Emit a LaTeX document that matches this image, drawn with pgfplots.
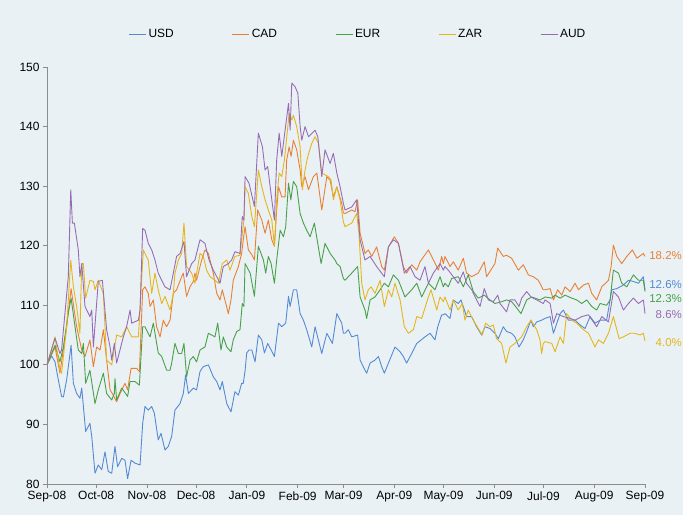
\documentclass[border=0pt]{standalone}
\usepackage{fontspec}
\setmainfont{Liberation Sans}
\usepackage{pgfplots}
\pgfplotsset{compat=1.18}
\definecolor{bgc}{RGB}{234,241,245}
\definecolor{usdc}{RGB}{84,138,212}
\definecolor{cadc}{RGB}{232,128,52}
\definecolor{eurc}{RGB}{72,160,72}
\definecolor{zarc}{RGB}{228,182,28}
\definecolor{audc}{RGB}{150,108,180}
\definecolor{axc}{RGB}{140,140,140}
\begin{document}
\begin{tikzpicture}
\fill[bgc] (0,0) rectangle (683bp,515bp);
\useasboundingbox (0,0) rectangle (683bp,515bp);
\begin{axis}[
  at={(47bp,31bp)}, anchor=south west,
  scale only axis, width=598bp, height=417bp,
  xmin=0, xmax=365, ymin=80, ymax=150,
  axis x line*=bottom, axis y line*=left,
  axis line style={axc, line width=0.8pt, -},
  tick style={axc, line width=0.8pt},
  tick align=outside, major tick length=4bp,
  xtick={0,30,61,91,122,153,181,212,242,273,303,334,365},
  xticklabels={Sep-08,Oct-08,Nov-08,Dec-08,Jan-09,Feb-09,Mar-09,Apr-09,May-09,Jun-09,Jul-09,Aug-09,Sep-09},
  ytick={80,90,...,150},
  /pgf/number format/assume math mode=true,
  ticklabel style={font=\fontsize{12}{14}\selectfont, text=black},
  clip=false,
  legend columns=5,
  legend style={draw=none, fill=none, at={(0.520,1.079)}, anchor=center,
    font=\fontsize{12}{14}\selectfont,
    /tikz/every even column/.append style={column sep=56bp},
    /tikz/every odd column/.append style={column sep=0bp}},
  legend cell align=left,
  legend image code/.code={\draw[#1, line width=1pt] (0bp,0bp) -- (17bp,0bp);},
  every axis plot/.append style={line width=0.9pt, line join=round},
]
\addplot[usdc] coordinates {
(0,100)(2.8,101.5)(4.9,100.5)(6.9,97.5)(8.9,94.7)(10,94.6)(12,97.5)(14.7,103.3)(16.1,96.9)(18.1,95.2)(20.1,94.4)(21.2,96.1)(23.6,88.8)(26.2,90.2)(27.3,88)(29.3,81.8)(31.3,83.2)(33.4,82.4)(35.4,85.4)(37.4,82.1)(39.5,81.8)(41.5,86.3)(43.1,82.9)(45.6,84.3)(47.6,84.0)(49.2,80.9)(51.3,84.0)(53.7,83.5)(56.8,83.2)(58.4,90.2)
(59.8,93.0)(61.8,92.4)(63.9,93.0)(65.5,91.9)(67.9,87.4)(69.6,88.5)(72.0,85.7)(74.0,86.3)(76.1,88.0)(78.1,92.4)(81.2,93.5)(83.2,95.2)(84.6,98.3)(86.3,95.2)(89.3,96.1)(91.3,95.8)(93.4,98.9)(95.4,99.7)(98.5,100.0)(101.5,98.0)(103.6,97.2)(105.6,95.8)(107.0,97.2)(109.7,93.5)(112.3,92.1)(114.7,95.5)(116.8,94.9)(118.8,96.9)(119.8,96.9)
(120.9,99)(121.9,102.0)(123.3,102.5)(125.0,102.5)(127.0,100.5)(129.0,105.0)(131.1,104.2)(132.7,102.0)(134.7,103.6)(136.8,102.5)(138.8,101.4)(141.3,107.0)(143.3,106.4)(145.7,107.0)(147.4,111.5)(148.4,109.8)(150.4,112.6)(152.4,112.6)(154.5,108.6)(156.5,107.5)(158.5,105.9)(161.6,103.0)(163.6,106.4)(167.7,101.9)(170.8,105.3)(174.2,103.6)(176.9,108.6)(179.9,107.0)(180.9,105.3)
(181.9,105.3)(183.9,105.9)(186.0,104.7)(189.6,105.0)(191.1,100.8)(194.1,99.1)(195.1,98.6)(197.2,100.3)(200.2,100.8)(202.3,101.4)(204.3,99.7)(205.9,98.6)(208.4,100.3)(212.4,103.0)(215.5,102.2)(217.5,101.4)(219.5,100.3)(222.6,101.9)(225.7,103.6)(230.7,104.7)(233.8,105.3)(236.8,104.2)(238.5,106.4)(240.9,108.4)(241.9,108.4)
(242.9,108.6)(246.0,107.8)(248.0,110.9)(251.0,110.3)(252.7,110.9)(256.1,108.1)(259.2,108.1)(262.2,106.4)(265.3,105.0)(267.3,106.4)(270.4,106.1)(273.4,105.3)(275.5,104.4)(278.5,106.4)(280.5,105.6)(283.6,105.3)(285.6,104.7)(288.1,103.0)(290.7,104.2)(292.8,105.6)(295.4,107.5)(296.8,106.4)(298.9,107.2)(301.9,107.5)
(304.0,107.8)(307.1,108.1)(309.1,105.3)(313.2,108.6)(315.2,109.2)(318.2,107.5)(322.3,107.5)(325.4,106.7)(328.4,106.1)(331.5,108.1)(334.5,107.0)(337.6,107.5)(341.6,107.5)(344.7,112.6)(347.8,112.8)(351.8,113.4)(354.9,114.2)(357.9,114.0)(361.0,113.7)(364.0,114.8)(365,112.6)
};
\addlegendentry{USD}
\addplot[cadc] coordinates {
(0,100)(4.9,103.0)(7.9,98.6)(12.0,106.4)(14.7,112.8)(18.1,106.4)(21.2,102.5)(23.2,101.4)(26.2,104.2)(28.3,99.7)(30.3,103.0)(32.4,102.5)(34.4,105.9)(36.4,100.8)(38.5,95.8)(40.5,94.9)(42.5,93.8)(44.6,95.2)(47.6,96.9)(49.2,95.8)(51.3,99.4)(54.7,99.4)(56.4,98.9)(58.4,112.6)
(59.8,113.1)(61.8,112.0)(62.9,109.8)(64.9,110.9)(66.9,106.4)(69.0,104.7)(71.0,107.5)(73.0,106.4)(75.1,107.5)(77.1,112.0)(79.1,112.6)(82.2,114.8)(83.2,115.4)(85.2,111.5)(87.3,113.1)(89.3,114.0)(90.3,115.4)(91.3,114.2)(94.4,117.6)(96.4,119.3)(98.5,118.7)(101.5,115.4)(103.6,112.0)(105.6,110.9)(107.0,112.6)(110.7,108.6)(112.3,110.9)(113.7,114.2)(116.8,116.5)(118.8,118.7)(119.8,121.0)
(120.9,123.2)(122.9,119.3)(125.0,118.5)(126.6,117.6)(128.6,126.0)(131.1,124.3)(133.1,122.1)(135.1,124.3)(137.2,121.0)(138.8,119.9)(140.2,126.0)(141.3,129.9)(143.3,128.2)(145.3,128.2)(146.3,134.4)(147.8,136.6)(149.0,135.0)(150.4,137.7)(152.4,136.1)(154.5,132.7)(155.5,129.9)(157.5,131.6)(159.6,129.4)(162.6,131.6)(164.7,132.2)(167.7,126.0)(170.8,131.6)(172.8,131.0)(174.8,128.2)(176.9,129.9)(179.9,127.1)(180.9,125.5)
(181.9,125.4)(186.0,126.0)(188.0,125.7)(189.6,127.7)(191.1,122.1)(194.1,118.7)(196.1,119.3)(198.2,118.2)(201.2,119.8)(204.3,116.5)(205.9,115.9)(208.4,119.8)(212.0,121.5)(214.5,120.4)(217.5,116.5)(219.5,115.4)(222.6,116.8)(225.7,115.9)(227.7,117.3)(232.8,119.3)(234.8,118.2)(238.9,115.9)(240.9,118.2)(241.9,117.0)
(242.9,118.2)(246.0,116.5)(248.0,117.3)(251.0,115.9)(254.1,117.9)(256.1,115.4)(259.2,114.8)(263.2,115.4)(266.9,117.3)(268.3,114.8)(273.4,117.0)(275.1,119.6)(278.5,118.2)(280.5,118.4)(283.6,117.9)(287.7,115.9)(290.7,116.8)(293.8,115.1)(296.8,114.8)(299.9,114.2)(302.9,112.6)
(304.0,112.6)(307.1,112.8)(309.1,110.9)(311.7,112.6)(314.2,111.7)(316.2,113.1)(319.3,112.3)(322.3,113.7)(324.4,112.6)(327.4,113.4)(330.5,113.7)(332.5,112.0)(335.5,110.9)(338.6,113.1)(342.7,114.2)(344.3,116.5)(345.7,120.1)(347.8,118.2)(350.8,117.0)(353.9,118.2)(357.3,119.3)(360.0,117.9)(364.0,118.7)(365,118.2)
};
\addlegendentry{CAD}
\addplot[eurc] coordinates {
(0,100)(4.9,103.3)(7.9,100.5)(10.0,103.0)(13.0,108.7)(14.7,111.2)(17.1,106.4)(19.1,102.5)(21.2,101.9)(22.2,103.6)(23.6,96.9)(26.2,99.1)(29.3,93.5)(31.3,95.8)(34.4,98.6)(36.4,95.2)(39.5,94.1)(41.1,95.2)(41.5,97.7)(42.5,94.1)(45.6,96.1)(49.2,94.7)(50.7,97.2)(53.7,97.2)(56.4,96.6)(58.4,106.4)
(59.8,106.4)(62.9,104.7)(64.9,107.0)(67.9,102.0)(70.0,101.4)(73.0,99.1)(75.1,99.1)(76.1,100.3)(78.1,103.6)(80.2,101.9)(82.2,101.9)(83.6,103.6)(85.2,98.0)(87.3,100.8)(89.3,101.4)(91.3,100.5)(93.4,102.5)(96.4,103.0)(98.5,105.3)(102.5,104.7)(104.2,107.0)(106.2,102.5)(107.6,104.7)(109.7,103.0)(112.3,102.2)(113.7,104.2)(115.8,105.6)(117.8,105.9)(119.2,110.3)(120.2,109.8)
(120.9,117.0)(124.0,115.4)(126.6,111.5)(129.0,119.9)(132.1,117.6)(133.5,115.4)(135.1,118.2)(136.8,117.0)(138.8,113.7)(140.2,117.6)(142.3,122.6)(144.3,121.5)(145.7,123.2)(147.4,130.5)(148.8,127.7)(150.4,130.8)(152.4,129.9)(154.5,125.4)(156.5,123.8)(158.5,122.6)(160.6,121.5)(163.2,123.8)(167.3,117.0)(169.7,120.4)(172.8,118.7)(175.8,117.6)(176.9,117.0)(178.9,116.5)(180.9,114.5)
(181.9,114.2)(186.0,115.4)(189.6,116.5)(191.1,111.4)(194.1,109.2)(195.1,107.8)(197.2,110.9)(200.2,111.4)(203.3,112.6)(205.9,113.7)(208.4,113.1)(211.4,115.1)(214.5,114.2)(218.5,111.4)(222.6,112.6)(225.7,113.7)(228.7,111.4)(232.8,113.7)(236.8,112.6)(239.9,114.8)(241.9,113.1)
(242.9,113.7)(244.9,113.1)(247.0,114.5)(251.0,114.8)(254.1,113.1)(257.1,115.1)(260.2,112.3)(263.2,111.2)(266.9,111.7)(270.4,110.9)(273.4,110.3)(277.5,110.6)(280.5,110.9)(283.6,110.6)(286.0,109.8)(289.3,108.6)(292.8,110.9)(295.8,111.4)(300.9,110.9)(302.9,111.2)
(304.0,111.4)(308.1,111.2)(310.1,111.7)(313.2,111.2)(316.2,111.7)(320.3,111.2)(323.3,110.9)(326.4,110.3)(329.4,110.9)(332.5,109.8)(335.5,109.2)(337.6,110.3)(341.6,110.0)(343.7,110.9)(345.7,115.9)(348.8,115.4)(350.8,113.7)(353.9,113.1)(357.9,115.1)(361.0,114.2)(364.0,114.2)(365,112.3)
};
\addlegendentry{EUR}
\addplot[zarc] coordinates {
(0,100)(4.9,104.7)(7.9,99.1)(8.9,98.6)(12.0,106.4)(14.5,117.6)(16.1,113.1)(18.1,109.8)(20.1,105.3)(21.2,117.0)(22.2,117.0)(23.6,111.2)(26.2,114.2)(28.3,114.0)(29.3,112.6)(31.3,114.2)(34.4,112.0)(36.4,100.8)(39.5,100.0)(42.5,105.0)(45.6,104.7)(48.6,106.4)(51.7,104.7)(55.8,104.7)(58.8,119.3)
(59.8,118.7)(61.8,117.6)(63.9,112.0)(65.9,115.4)(67.9,112.6)(70.0,110.3)(72.0,111.5)(75.1,109.2)(77.1,112.0)(78.1,115.4)(80.2,117.6)(82.2,118.7)(83.6,123.8)(85.2,116.5)(88.3,115.4)(90.3,113.7)(93.4,118.7)(95.4,118.2)(97.4,115.9)(99.5,114.8)(102.5,114.2)(104.6,113.7)(107.0,117.0)(109.7,117.6)(111.7,115.9)(114.7,118.2)(117.8,118.4)(118.8,121.0)(120.2,124.3)
(120.9,129.9)(122.9,128.8)(125.0,124.9)(126.6,123.2)(129.0,132.7)(131.1,129.9)(133.1,127.7)(135.1,126.0)(137.2,124.3)(138.8,119.9)(140.2,127.7)(141.7,132.2)(143.3,131.6)(144.9,134.4)(147.8,142.2)(149.4,141.1)(150.4,141.9)(152.4,140.0)(154.5,136.6)(155.9,129.4)(157.5,132.7)(159.2,135.0)(161.6,137.2)(163.6,138.3)(165.7,137.2)(167.7,132.2)(171.8,131.6)(173.4,131.0)(174.8,127.7)(176.9,129.9)(178.9,127.7)(180.9,124.0)
(181.9,123.2)(186.0,123.8)(189.0,125.4)(190.4,122.1)(192.1,113.7)(194.1,110.9)(196.1,112.6)(197.8,113.1)(200.2,112.0)(203.3,114.2)(205.9,109.8)(208.4,112.6)(210.4,111.4)(212.4,113.7)(215.5,110.9)(218.1,106.4)(220.6,105.3)(223.6,105.9)(225.7,108.1)(228.7,107.8)(232.8,111.4)(234.4,112.6)(237.9,109.2)(239.9,111.4)(241.9,110.6)
(242.9,111.4)(246.0,109.2)(248.0,110.9)(251.0,109.2)(253.5,110.3)(255.1,107.5)(257.1,109.2)(260.2,107.5)(263.2,106.1)(265.7,105.0)(267.7,107.0)(270.4,106.4)(272.4,106.7)(274.4,104.4)(277.5,103.6)(280.1,100.3)(282.6,103.0)(285.6,103.6)(289.7,104.7)(292.8,106.4)(295.4,107.5)(298.9,105.9)(300.9,104.2)(301.9,101.9)(302.9,103.6)
(304.0,103.9)(308.1,103.6)(310.1,102.2)(313.2,104.7)(315.2,103.6)(317.2,108.6)(320.3,107.5)(323.3,107.0)(327.4,105.9)(330.5,105.3)(334.5,103.0)(336.6,104.2)(339.6,103.6)(342.7,105.3)(345.7,108.1)(349.2,104.4)(351.8,104.7)(355.9,105.3)(358.9,105.3)(362.0,105.0)(364.0,105.3)(365,104.0)
};
\addlegendentry{ZAR}
\addplot[audc] coordinates {
(0,100)(4.9,104.5)(7.9,101.9)(8.9,102.5)(13.0,114.8)(14.5,129.4)(15.5,123.8)(16.7,123.8)(19.1,119.3)(20.1,114.8)(21.2,117.0)(23.2,109.8)(26.2,108.1)(27.3,109.2)(28.3,103.0)(31.3,114.0)(33.8,114.2)(36.4,105.9)(38.5,103.0)(39.5,100.8)(41.1,103.6)(42.5,100.3)(46.6,104.7)(48.6,106.4)(50.7,109.2)(51.7,107.0)(55.8,107.5)(56.8,109.2)(58.4,122.9)
(59.8,122.6)(61.8,120.4)(63.9,119.3)(65.9,117.6)(67.9,115.4)(70.0,114.2)(72.0,113.1)(75.1,112.6)(77.1,115.4)(79.1,118.2)(81.2,118.7)(83.6,120.7)(85.2,114.8)(88.3,117.0)(90.3,117.6)(93.4,121.0)(96.4,120.4)(98.9,117.6)(101.5,115.9)(103.6,114.8)(105.6,113.7)(107.6,116.5)(110.7,117.0)(112.7,117.6)(114.7,119.0)(117.8,118.7)(119.2,124.9)(120.2,124.3)
(120.9,131.6)(123.3,130.5)(126.6,126.6)(129.0,138.9)(131.5,136.6)(133.1,132.7)(134.7,133.3)(136.2,129.9)(138.8,124.3)(140.2,134.4)(141.7,138.9)(143.3,135.0)(147.4,143.9)(148.4,139.4)(149.4,147.3)(151.4,146.7)(153.1,145.6)(154.5,140.0)(155.5,137.7)(157.5,140.0)(159.6,138.3)(163.6,139.4)(165.3,138.3)(167.7,131.6)(169.7,136.1)(172.8,133.8)(174.8,135.5)(176.9,132.2)(178.9,129.9)(180.9,127.1)
(181.9,126.0)(186.0,126.5)(189.0,127.7)(191.1,121.0)(194.1,117.6)(197.2,118.2)(201.2,116.5)(205.9,114.8)(208.4,119.8)(211.4,121.0)(214.5,120.4)(218.1,115.4)(221.6,116.5)(224.6,114.8)(227.7,114.2)(230.7,116.5)(232.8,113.7)(235.8,115.4)(239.9,117.0)(241.9,115.9)
(242.9,116.5)(244.9,115.9)(248.0,114.8)(251.0,113.7)(254.1,115.6)(256.1,113.7)(259.2,112.6)(262.2,110.9)(264.3,109.8)(266.9,112.8)(269.4,110.9)(272.4,110.6)(275.1,111.7)(276.5,110.3)(280.5,108.9)(282.6,110.9)(285.6,110.9)(288.1,109.8)(289.7,111.2)(292.8,112.3)(295.4,111.4)(298.9,110.9)(302.9,110.3)
(304.0,110.9)(307.1,110.3)(309.1,107.0)(311.1,108.6)(315.2,108.1)(319.3,107.8)(322.3,107.5)(326.4,108.1)(330.5,108.4)(335.5,106.4)(338.6,108.1)(342.7,107.2)(345.7,112.3)(348.8,111.4)(351.8,109.2)(354.9,110.3)(357.9,111.2)(361.0,110.3)(364.0,110.9)(365,108.6)
};
\addlegendentry{AUD}
\node[anchor=east, inner sep=0pt, text=cadc, font=\fontsize{11.5}{13}\selectfont] at (axis cs:387.6,118.4) {18.2\%};
\node[anchor=east, inner sep=0pt, text=usdc, font=\fontsize{11.5}{13}\selectfont] at (axis cs:387.6,113.5) {12.6\%};
\node[anchor=east, inner sep=0pt, text=eurc, font=\fontsize{11.5}{13}\selectfont] at (axis cs:387.6,111.2) {12.3\%};
\node[anchor=east, inner sep=0pt, text=audc, font=\fontsize{11.5}{13}\selectfont] at (axis cs:387.6,108.4) {8.6\%};
\node[anchor=east, inner sep=0pt, text=zarc, font=\fontsize{11.5}{13}\selectfont] at (axis cs:387.6,103.7) {4.0\%};
\end{axis}
\end{tikzpicture}
\end{document}
